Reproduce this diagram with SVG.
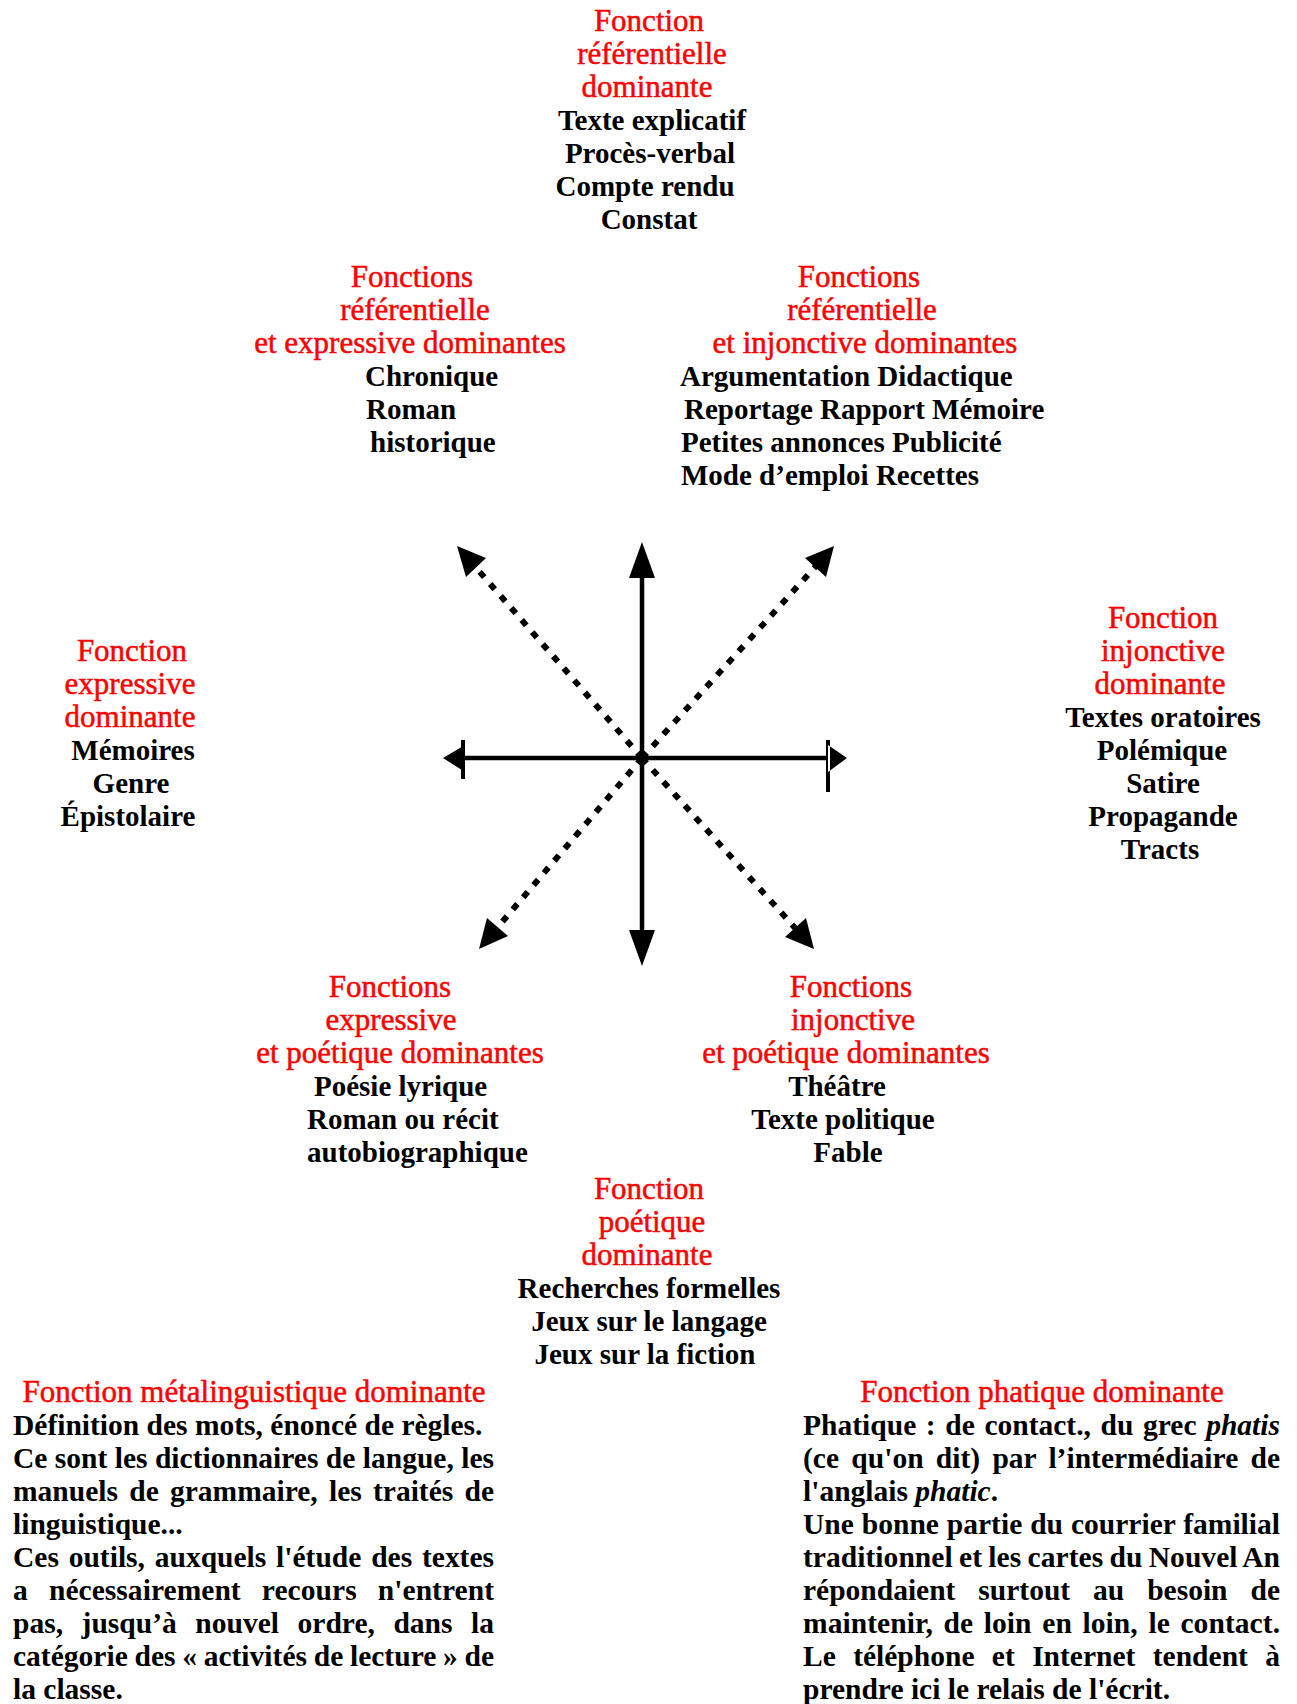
<svg xmlns="http://www.w3.org/2000/svg" width="1297" height="1704" viewBox="0 0 1297 1704">
<style>
text{font-family:"Liberation Serif","Times New Roman",serif}
.r{font-size:31px;fill:#ff0000;stroke:#ff0000;stroke-width:0.5px}
.b{font-size:29px;font-weight:bold;fill:#000}
.p{font-size:29.5px;font-weight:bold;fill:#000}
.m{text-anchor:middle}
.dash{stroke:#000;stroke-width:6;stroke-dasharray:7 9;fill:none}
.solid{stroke:#000;stroke-width:4.5;fill:none}
.head{fill:#000;stroke:none}
</style>
<rect width="1297" height="1704" fill="#fff"/>
<g id="connectors">
  <line class="solid" x1="642" y1="577" x2="642" y2="931"/>
  <line class="solid" x1="465" y1="758" x2="828" y2="758"/>
  <line class="dash" x1="642" y1="758" x2="475.5" y2="567.1"/>
  <line class="dash" x1="642" y1="758" x2="815.3" y2="566.8"/>
  <line class="dash" x1="642" y1="758" x2="497.2" y2="927.7"/>
  <line class="dash" x1="642" y1="758" x2="795.3" y2="928.2"/>
  <polygon class="head" points="642,542 629,578 655,578"/>
  <polygon class="head" points="642,966 629,930 655,930"/>
  <path class="head" d="M443,758 L465,745 L465,772 Z M461,740 h4 v39 h-4 Z"/>
  <path class="head" d="M847,758 L828,745 L828,772 Z M826,740 h4 v52 h-4 Z"/>
  <polygon class="head" points="457,546 486,558 466,577"/>
  <polygon class="head" points="834,546 826,577 805,558"/>
  <polygon class="head" points="479,949 508,936 487,918"/>
  <polygon class="head" points="814,949 806,918 785,937"/>
</g>
<g id="node-referentielle">
  <text class="r m" x="649" y="31">Fonction</text>
  <text class="r m" x="652" y="64">référentielle</text>
  <text class="r m" x="647" y="97">dominante</text>
  <text class="b m" x="652" y="130">Texte explicatif</text>
  <text class="b m" x="650" y="163">Procès-verbal</text>
  <text class="b m" x="645" y="196">Compte rendu</text>
  <text class="b m" x="649" y="229">Constat</text>
</g>
<g id="node-referentielle-expressive">
  <text class="r m" x="412" y="287">Fonctions</text>
  <text class="r m" x="415" y="320">référentielle</text>
  <text class="r m" x="410" y="353">et expressive dominantes</text>
  <text class="b" x="365" y="386">Chronique</text>
  <text class="b" x="366" y="419">Roman</text>
  <text class="b" x="370" y="452">historique</text>
</g>
<g id="node-referentielle-injonctive">
  <text class="r m" x="859" y="287">Fonctions</text>
  <text class="r m" x="862" y="320">référentielle</text>
  <text class="r m" x="865" y="353">et injonctive dominantes</text>
  <text class="b" x="680" y="386">Argumentation Didactique</text>
  <text class="b" x="684" y="419">Reportage Rapport Mémoire</text>
  <text class="b" x="681" y="452">Petites annonces Publicité</text>
  <text class="b" x="681" y="485">Mode d’emploi Recettes</text>
</g>
<g id="node-expressive">
  <text class="r m" x="132" y="661">Fonction</text>
  <text class="r m" x="130" y="694">expressive</text>
  <text class="r m" x="130" y="727">dominante</text>
  <text class="b m" x="133" y="760">Mémoires</text>
  <text class="b m" x="131" y="793">Genre</text>
  <text class="b m" x="128" y="826">Épistolaire</text>
</g>
<g id="node-injonctive">
  <text class="r m" x="1163" y="628">Fonction</text>
  <text class="r m" x="1163" y="661">injonctive</text>
  <text class="r m" x="1160" y="694">dominante</text>
  <text class="b m" x="1163" y="727">Textes oratoires</text>
  <text class="b m" x="1162" y="760">Polémique</text>
  <text class="b m" x="1163" y="793">Satire</text>
  <text class="b m" x="1163" y="826">Propagande</text>
  <text class="b m" x="1160" y="859">Tracts</text>
</g>
<g id="node-expressive-poetique">
  <text class="r m" x="390" y="997">Fonctions</text>
  <text class="r m" x="391" y="1030">expressive</text>
  <text class="r m" x="400" y="1063">et poétique dominantes</text>
  <text class="b" x="314" y="1096">Poésie lyrique</text>
  <text class="b" x="307" y="1129">Roman ou récit</text>
  <text class="b" x="307" y="1162">autobiographique</text>
</g>
<g id="node-injonctive-poetique">
  <text class="r m" x="851" y="997">Fonctions</text>
  <text class="r m" x="853" y="1030">injonctive</text>
  <text class="r m" x="846" y="1063">et poétique dominantes</text>
  <text class="b m" x="837" y="1096">Théâtre</text>
  <text class="b m" x="843" y="1129">Texte politique</text>
  <text class="b m" x="848" y="1162">Fable</text>
</g>
<g id="node-poetique">
  <text class="r m" x="649" y="1199">Fonction</text>
  <text class="r m" x="652" y="1232">poétique</text>
  <text class="r m" x="647" y="1265">dominante</text>
  <text class="b m" x="649" y="1298">Recherches formelles</text>
  <text class="b m" x="649" y="1331">Jeux sur le langage</text>
  <text class="b m" x="645" y="1364">Jeux sur la fiction</text>
</g>
<g id="node-metalinguistique">
  <text class="r m" x="254" y="1402">Fonction métalinguistique dominante</text>
  <text class="p" x="13" y="1435">Définition des mots, énoncé de règles.</text>
  <text class="p" x="13" y="1468" textLength="481" lengthAdjust="spacing">Ce sont les dictionnaires de langue, les</text>
  <text class="p" x="13" y="1501" style="word-spacing:3.8px" textLength="481" lengthAdjust="spacing">manuels de grammaire, les traités de</text>
  <text class="p" x="13" y="1534">linguistique...</text>
  <text class="p" x="13" y="1567" style="word-spacing:2.5px" textLength="481" lengthAdjust="spacing">Ces outils, auxquels l'étude des textes</text>
  <text class="p" x="13" y="1600" style="word-spacing:13.7px" textLength="481" lengthAdjust="spacing">a nécessairement recours n'entrent</text>
  <text class="p" x="13" y="1633" style="word-spacing:11.1px" textLength="481" lengthAdjust="spacing">pas, jusqu’à nouvel ordre, dans la</text>
  <text class="p" x="13" y="1666" style="word-spacing:-0.7px" textLength="481" lengthAdjust="spacing">catégorie des « activités de lecture » de</text>
  <text class="p" x="13" y="1699">la classe.</text>
</g>
<g id="node-phatique">
  <text class="r m" x="1042" y="1402">Fonction phatique dominante</text>
  <text class="p" x="803" y="1435" style="word-spacing:2.2px" textLength="477" lengthAdjust="spacing">Phatique : de contact., du grec <tspan font-style="italic">phatis</tspan></text>
  <text class="p" x="803" y="1468" style="word-spacing:4.8px" textLength="477" lengthAdjust="spacing">(ce qu'on dit) par l’intermédiaire de</text>
  <text class="p" x="803" y="1501">l'anglais <tspan font-style="italic">phatic</tspan>.</text>
  <text class="p" x="803" y="1534" style="word-spacing:0.5px" textLength="477" lengthAdjust="spacing">Une bonne partie du courrier familial</text>
  <text class="p" x="803" y="1567" style="word-spacing:-1.1px" textLength="477" lengthAdjust="spacing">traditionnel et les cartes du Nouvel An</text>
  <text class="p" x="803" y="1600" style="word-spacing:15.6px" textLength="477" lengthAdjust="spacing">répondaient surtout au besoin de</text>
  <text class="p" x="803" y="1633" style="word-spacing:3.2px" textLength="477" lengthAdjust="spacing">maintenir, de loin en loin, le contact.</text>
  <text class="p" x="803" y="1666" style="word-spacing:10px" textLength="477" lengthAdjust="spacing">Le téléphone et Internet tendent à</text>
  <text class="p" x="803" y="1699">prendre ici le relais de l'écrit.</text>
</g>
</svg>
